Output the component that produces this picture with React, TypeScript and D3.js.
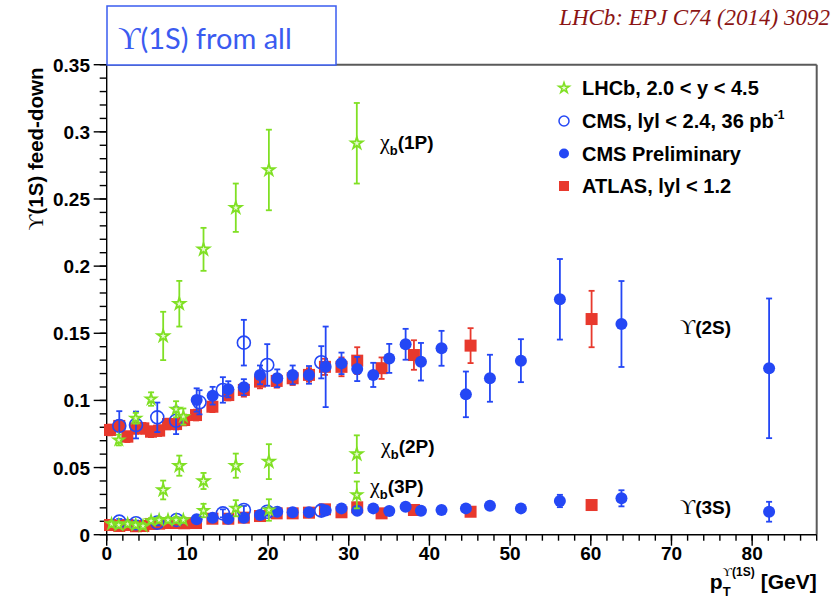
import React from "react";
import * as d3 from "d3";

// Each point: [pT (GeV), fraction, uncertainty]
type Pt = [number, number, number];

// LHCb chi_b(1P) -> Upsilon(1S)
const lhcbChib1P: Pt[] = [
  [7.0, 0.148, 0.018],
  [9.0, 0.172, 0.017],
  [12.0, 0.2125, 0.016],
  [16.0, 0.2435, 0.018],
  [20.1, 0.2716, 0.03],
  [31.0, 0.2915, 0.03],
];
// LHCb, low-pT points near 0.08-0.1
const lhcbLowUpper: Pt[] = [
  [1.5, 0.0705, 0.004],
  [3.6, 0.0867, 0.004],
  [5.5, 0.101, 0.005],
  [8.6, 0.0934, 0.006],
  [9.5, 0.088, 0.006],
];
// LHCb chi_b(2P) -> Upsilon(1S)
const lhcbChib2P: Pt[] = [
  [7.0, 0.0333, 0.007],
  [9.0, 0.0514, 0.0075],
  [12.0, 0.04, 0.006],
  [16.0, 0.0514, 0.009],
  [20.1, 0.0544, 0.013],
  [31.0, 0.06, 0.014],
];
// LHCb chi_b(3P) -> Upsilon(1S) and low-pT points near 0.01
const lhcbChib3P: Pt[] = [
  [0.6, 0.008, 0.002],
  [1.5, 0.0072, 0.002],
  [2.6, 0.008, 0.002],
  [3.6, 0.0072, 0.002],
  [4.5, 0.0065, 0.002],
  [5.5, 0.0104, 0.002],
  [6.5, 0.011, 0.002],
  [7.6, 0.011, 0.002],
  [8.6, 0.011, 0.002],
  [9.5, 0.011, 0.002],
  [12.0, 0.018, 0.005],
  [16.0, 0.0197, 0.006],
  [20.1, 0.0184, 0.008],
  [31.0, 0.0296, 0.01],
];

// CMS |y| < 2.4, 36 pb^-1 (open circles)
const cms36Upper: Pt[] = [
  [1.56, 0.081, 0.011],
  [3.63, 0.0817, 0.01],
  [6.27, 0.0874, 0.011],
  [8.6, 0.0849, 0.01],
  [11.5, 0.0986, 0.009],
  [14.4, 0.1078, 0.0095],
  [17.0, 0.143, 0.017],
  [19.9, 0.1264, 0.0155],
  [26.6, 0.1284, 0.012],
];
const cms36Lower: Pt[] = [
  [1.56, 0.0097, 0.002],
  [3.63, 0.0085, 0.002],
  [6.27, 0.009, 0.002],
  [8.67, 0.011, 0.002],
  [14.4, 0.0159, 0.003],
  [17.0, 0.0184, 0.003],
  [19.9, 0.0171, 0.003],
  [26.6, 0.0179, 0.004],
];

// CMS Preliminary (filled circles)
const cmsPrelimUpper: Pt[] = [
  [11.15, 0.1003, 0.0087],
  [13.13, 0.1035, 0.0066],
  [15.07, 0.1083, 0.006],
  [17.0, 0.1098, 0.006],
  [19.0, 0.119, 0.007],
  [21.14, 0.1165, 0.0066],
  [23.05, 0.119, 0.007],
  [25.07, 0.119, 0.0066],
  [27.14, 0.125, 0.03],
  [29.1, 0.1276, 0.008],
  [31.05, 0.1234, 0.009],
  [33.04, 0.119, 0.009],
  [35.02, 0.1313, 0.0108],
  [37.05, 0.1418, 0.0115],
  [38.95, 0.1288, 0.014],
  [41.5, 0.1388, 0.013],
  [44.52, 0.1045, 0.017],
  [47.5, 0.1165, 0.0175],
  [51.34, 0.1296, 0.016],
  [56.17, 0.1753, 0.03],
  [63.8, 0.1569, 0.032],
  [82.1, 0.1239, 0.052],
];
const cmsPrelimLower: Pt[] = [
  [11.15, 0.0115, 0.002],
  [13.13, 0.0127, 0.002],
  [15.07, 0.0119, 0.002],
  [17.0, 0.0127, 0.002],
  [19.0, 0.0147, 0.002],
  [21.14, 0.0171, 0.002],
  [23.05, 0.0167, 0.002],
  [25.07, 0.0167, 0.002],
  [27.14, 0.018, 0.002],
  [29.1, 0.0196, 0.002],
  [31.05, 0.0179, 0.002],
  [33.04, 0.0196, 0.002],
  [35.02, 0.0177, 0.002],
  [37.05, 0.0209, 0.002],
  [38.95, 0.0179, 0.002],
  [41.5, 0.0184, 0.002],
  [44.52, 0.0196, 0.002],
  [47.5, 0.0216, 0.002],
  [51.34, 0.0196, 0.002],
  [56.17, 0.0251, 0.0046],
  [63.8, 0.0271, 0.006],
  [82.1, 0.0171, 0.0074],
];

// ATLAS |y| < 1.2 (filled squares)
const atlasUpper: Pt[] = [
  [0.41, 0.078, 0.004],
  [1.56, 0.081, 0.004],
  [2.56, 0.073, 0.004],
  [3.63, 0.0792, 0.004],
  [4.54, 0.0792, 0.004],
  [5.49, 0.0767, 0.004],
  [6.5, 0.0775, 0.004],
  [7.6, 0.0824, 0.004],
  [8.6, 0.0824, 0.004],
  [9.6, 0.0854, 0.004],
  [11.07, 0.0891, 0.004],
  [13.1, 0.0953, 0.004],
  [15.07, 0.104, 0.004],
  [17.0, 0.1078, 0.005],
  [19.0, 0.114, 0.005],
  [21.07, 0.1145, 0.005],
  [23.05, 0.1165, 0.005],
  [25.07, 0.119, 0.005],
  [27.05, 0.125, 0.006],
  [29.1, 0.125, 0.007],
  [31.05, 0.1296, 0.01],
  [34.07, 0.124, 0.008],
  [38.08, 0.1338, 0.011],
  [45.1, 0.1408, 0.013],
  [60.1, 0.1606, 0.021],
];
const atlasLower: Pt[] = [
  [0.41, 0.0072, 0.001],
  [1.56, 0.0065, 0.001],
  [2.56, 0.0072, 0.001],
  [3.63, 0.0063, 0.001],
  [4.54, 0.0065, 0.001],
  [5.49, 0.008, 0.001],
  [6.5, 0.0082, 0.001],
  [7.6, 0.0087, 0.001],
  [8.6, 0.0087, 0.001],
  [9.6, 0.0085, 0.001],
  [11.07, 0.0087, 0.001],
  [13.1, 0.0119, 0.001],
  [15.07, 0.0119, 0.001],
  [17.0, 0.0127, 0.001],
  [19.0, 0.0139, 0.001],
  [21.07, 0.0159, 0.001],
  [23.05, 0.0159, 0.001],
  [25.07, 0.0164, 0.001],
  [27.05, 0.0189, 0.001],
  [29.1, 0.0167, 0.001],
  [31.05, 0.0204, 0.001],
  [34.07, 0.0159, 0.001],
  [38.08, 0.0184, 0.001],
  [45.1, 0.0171, 0.001],
  [60.1, 0.0221, 0.001],
];

const yTicks = [0, 0.05, 0.1, 0.15, 0.2, 0.25, 0.3, 0.35];
const xTicks = [0, 10, 20, 30, 40, 50, 60, 70, 80];

const legendLabels = [
  "LHCb, 2.0 < y < 4.5",
  "CMS, lyl < 2.4, 36 pb",
  "CMS Preliminary",
  "ATLAS, lyl < 1.2",
];

const GREEN = "#80e024";
const BLUE = "#2447f5";
const RED = "#e8392d";
const SANS = "'Liberation Sans', Arial, Helvetica, sans-serif";
const SERIF = "'Liberation Serif', 'DejaVu Serif', serif";

const W = 839;
const H = 600;
const X0 = 106.7;
const X1 = 816.7;
const Y0 = 534.7;
const Y1 = 64.7;

const x = d3.scaleLinear().domain([0, 88]).range([X0, X1]);
const y = d3.scaleLinear().domain([0, 0.35]).range([Y0, Y1]);

const starPath = d3.symbol().type(d3.symbolStar).size(42)() as string;
const smallStarPath = d3.symbol().type(d3.symbolStar).size(34)() as string;

function ErrBars({ data, color }: { data: Pt[]; color: string }) {
  return (
    <g stroke={color} strokeWidth={1.8} fill="none">
      {data.map(([px, v, e], i) => {
        const cx = x(px);
        const yt = y(v + e);
        const yb = y(v - e);
        return (
          <g key={i}>
            <line x1={cx} x2={cx} y1={yt} y2={yb} />
            <line x1={cx - 3} x2={cx + 3} y1={yt} y2={yt} />
            <line x1={cx - 3} x2={cx + 3} y1={yb} y2={yb} />
          </g>
        );
      })}
    </g>
  );
}

function Stars({ data, path }: { data: Pt[]; path: string }) {
  return (
    <g>
      {data.map(([px, v], i) => (
        <path
          key={i}
          d={path}
          transform={`translate(${x(px)},${y(v)})`}
          fill="#e6fad2"
          stroke={GREEN}
          strokeWidth={1.8}
        />
      ))}
    </g>
  );
}

function FilledCircles({ data }: { data: Pt[] }) {
  return (
    <g fill={BLUE}>
      {data.map(([px, v], i) => (
        <circle key={i} cx={x(px)} cy={y(v)} r={6} />
      ))}
    </g>
  );
}

function OpenCircles({ data }: { data: Pt[] }) {
  return (
    <g fill="none" stroke={BLUE} strokeWidth={1.6}>
      {data.map(([px, v], i) => (
        <circle key={i} cx={x(px)} cy={y(v)} r={6.5} />
      ))}
    </g>
  );
}

function Squares({ data }: { data: Pt[] }) {
  return (
    <g fill={RED}>
      {data.map(([px, v], i) => (
        <rect key={i} x={x(px) - 6} y={y(v) - 6} width={12} height={12} />
      ))}
    </g>
  );
}

function Upsilon({ size }: { size: number }) {
  return (
    <tspan fontFamily={SERIF} fontWeight="normal" fontSize={size}>
      ϒ
    </tspan>
  );
}

export default function App() {
  const yMinor = d3.range(0, 0.3501, 0.01);
  const xMinor = d3.range(0, 88.01, 2);
  const lhcbAll = [...lhcbChib1P, ...lhcbLowUpper, ...lhcbChib2P, ...lhcbChib3P];
  const legendY = [88, 121, 153.5, 186];

  return (
    <svg
      width={W}
      height={H}
      style={{ position: "absolute", left: 0, top: 0, background: "#fff" }}
      fontFamily={SANS}
    >
      <rect width={W} height={H} fill="#fff" />

      {/* frame */}
      <line x1={X0} x2={X1} y1={Y1} y2={Y1} stroke="#5a5a5a" strokeWidth={2} />
      <line x1={X1} x2={X1} y1={Y1} y2={Y0} stroke="#5a5a5a" strokeWidth={2} />

      {/* y axis */}
      <g stroke="#000" strokeWidth={1.4}>
        <line x1={X0} x2={X0} y1={Y1} y2={Y0} />
        {yMinor.map((t, i) => (
          <line key={i} x1={X0} x2={X0 - 7} y1={y(t)} y2={y(t)} />
        ))}
        {yTicks.map((t, i) => (
          <line key={"M" + i} x1={X0} x2={X0 - 13} y1={y(t)} y2={y(t)} />
        ))}
      </g>
      <g fontWeight="bold" fontSize={19} textAnchor="end">
        {yTicks.map((t, i) => (
          <text key={i} x={90} y={y(t) + 7}>
            {t === 0 ? "0" : String(t)}
          </text>
        ))}
      </g>
      <text
        transform="translate(43,149) rotate(-90)"
        textAnchor="middle"
        fontWeight="bold"
        fontSize={20.5}
      >
        <Upsilon size={22} />
        (1S) feed-down
      </text>

      {/* x axis */}
      <g stroke="#000" strokeWidth={1.4}>
        <line x1={X0} x2={X1} y1={Y0} y2={Y0} />
        {xMinor.map((t, i) => (
          <line key={i} x1={x(t)} x2={x(t)} y1={Y0} y2={Y0 + 6} />
        ))}
        {xTicks.map((t, i) => (
          <line key={"M" + i} x1={x(t)} x2={x(t)} y1={Y0} y2={Y0 + 11} />
        ))}
      </g>
      <g fontWeight="bold" fontSize={19} textAnchor="middle">
        {xTicks.map((t, i) => (
          <text key={i} x={x(t)} y={560}>
            {t}
          </text>
        ))}
      </g>
      <text x={X1} y={589} textAnchor="end" fontWeight="bold" fontSize={21}>
        <tspan>p</tspan>
        <tspan fontSize={13} dy={7}>T</tspan>
        <tspan fontSize={12} dx={-8} dy={-20}>
          <Upsilon size={13} />
          (1S)
        </tspan>
        <tspan dy={13} dx={6}>[GeV]</tspan>
      </text>

      {/* data */}
      <ErrBars data={atlasUpper} color={RED} />
      <ErrBars data={atlasLower} color={RED} />
      <Squares data={atlasUpper} />
      <Squares data={atlasLower} />
      <ErrBars data={cmsPrelimUpper} color={BLUE} />
      <ErrBars data={cmsPrelimLower} color={BLUE} />
      <FilledCircles data={cmsPrelimUpper} />
      <FilledCircles data={cmsPrelimLower} />
      <ErrBars data={cms36Upper} color={BLUE} />
      <ErrBars data={cms36Lower} color={BLUE} />
      <OpenCircles data={cms36Upper} />
      <OpenCircles data={cms36Lower} />
      <ErrBars data={lhcbAll} color={GREEN} />
      <Stars data={[...lhcbChib1P, ...lhcbChib2P]} path={starPath} />
      <Stars data={[...lhcbLowUpper, ...lhcbChib3P]} path={smallStarPath} />

      {/* annotations */}
      <g fontWeight="bold" fontSize={19}>
        <text x={380} y={149}>
          <tspan fontFamily={SERIF} fontWeight="normal" fontSize={22}>χ</tspan>
          <tspan fontSize={13} dy={6}>b</tspan>
          <tspan dy={-6}>(1P)</tspan>
        </text>
        <text x={381} y={453}>
          <tspan fontFamily={SERIF} fontWeight="normal" fontSize={22}>χ</tspan>
          <tspan fontSize={13} dy={6}>b</tspan>
          <tspan dy={-6}>(2P)</tspan>
        </text>
        <text x={370} y={493}>
          <tspan fontFamily={SERIF} fontWeight="normal" fontSize={22}>χ</tspan>
          <tspan fontSize={13} dy={6}>b</tspan>
          <tspan dy={-6}>(3P)</tspan>
        </text>
        <text x={680} y={334}>
          <Upsilon size={21} />
          (2S)
        </text>
        <text x={680} y={514}>
          <Upsilon size={21} />
          (3S)
        </text>
      </g>

      {/* legend */}
      <g>
        <path d={smallStarPath} transform={`translate(564,${legendY[0]})`} fill="#e6fad2" stroke={GREEN} strokeWidth={1.6} />
        <circle cx={564} cy={legendY[1]} r={5} fill="none" stroke={BLUE} strokeWidth={1.5} />
        <circle cx={564} cy={legendY[2]} r={5} fill={BLUE} />
        <rect x={559} y={legendY[3] - 5} width={10} height={10} fill={RED} />
        <g fontWeight="bold" fontSize={20}>
          {legendLabels.map((l, i) => (
            <text key={i} x={582} y={legendY[i] + 7}>
              {l}
              {i === 1 ? (
                <tspan fontSize={12} dy={-9}>-1</tspan>
              ) : null}
            </text>
          ))}
        </g>
      </g>

      {/* title box */}
      <rect x={107} y={6} width={229} height={59} fill="#fff" stroke="#3a5cf0" strokeWidth={1.5} />
      <text x={118} y={49} fontFamily="Lato, 'Open Sans', sans-serif" fontSize={29} fill="#3b5bf0">
        <tspan fontFamily={SERIF} fontSize={31}>ϒ</tspan>
        (1S) from all
      </text>

      <text
        x={830}
        y={25}
        textAnchor="end"
        fontFamily={SERIF}
        fontStyle="italic"
        fontSize={23}
        fill="#8b1414"
      >
        LHCb: EPJ C74 (2014) 3092
      </text>
    </svg>
  );
}
